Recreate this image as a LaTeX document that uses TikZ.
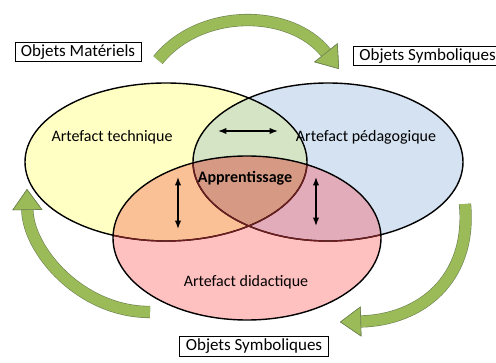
\documentclass[tikz,border=0pt]{standalone}
\usepackage{fontspec}
\setmainfont{Carlito}
\usetikzlibrary{arrows.meta}
\definecolor{yel}{RGB}{255,255,196}
\definecolor{blu}{RGB}{212,226,242}
\definecolor{pnk}{RGB}{255,192,192}
\definecolor{grn}{RGB}{212,228,196}
\definecolor{org}{RGB}{250,192,150}
\definecolor{mau}{RGB}{226,172,186}
\definecolor{brn}{RGB}{214,154,132}
\definecolor{lensline}{RGB}{110,30,30}
\definecolor{arrgreen}{RGB}{155,187,89}
\definecolor{arrdark}{RGB}{110,130,80}

\def\yelE{(166,162) ellipse [x radius=141, y radius=79]}
\def\bluE{(328,162) ellipse [x radius=135, y radius=79]}
\def\pnkE{(247,238) ellipse [x radius=134, y radius=82]}

\begin{document}
\begin{tikzpicture}[x=1pt,y=-1pt,>=Latex,
 objbox/.style={draw,fill=white,line width=.8pt,font=\fontsize{17}{19}\selectfont,inner xsep=6pt,inner ysep=2.5pt},
 artlabel/.style={font=\fontsize{16}{18}\selectfont},
 outl/.style={line width=1.4pt},
 cyc/.style={draw=arrgreen,line width=11pt,
   -{Triangle[length=21pt,width=30pt,fill=arrgreen,color=arrdark,line width=.6pt]},
   preaction={draw=arrdark,line width=12.2pt}},
 dbl/.style={<->,line width=1.2pt}]
 \clip (0,0) rectangle (496,363);
 % fills and overlaps
 \fill[yel] \yelE; \fill[blu] \bluE; \fill[pnk] \pnkE;
 \begin{scope}\clip \bluE; \fill[mau] \pnkE;\end{scope}
 \begin{scope}\clip \yelE; \fill[grn] \bluE; \fill[org] \pnkE;
  \clip \bluE; \fill[brn] \pnkE;\end{scope}
 % outlines
 \draw[outl] \yelE; \draw[outl] \bluE;
 \begin{scope}\clip \pnkE; \draw[outl,lensline] \yelE; \draw[outl,lensline] \bluE;\end{scope}
 \draw[outl] \pnkE;
 % labels
 \node[artlabel] (tech) at (112,137) {Artefact technique};
 \node[artlabel] (peda) at (366,137) {Artefact pédagogique};
 \node[artlabel] (didac) at (246,282) {Artefact didactique};
 \node[artlabel,font=\fontsize{16}{18}\selectfont\bfseries] (app) at (245,178) {Apprentissage};
 % double arrows
 \coordinate (h1) at (218,131); \coordinate (h2) at (278,131);
 \coordinate (v1a) at (178,177); \coordinate (v1b) at (178,229);
 \coordinate (v2a) at (316,177); \coordinate (v2b) at (316,226);
 \draw[dbl] (h1)--(h2);
 \draw[dbl] (v1a)--(v1b);
 \draw[dbl] (v2a)--(v2b);
 % boxes
 \node[objbox] (mat) at (78,52) {Objets Matériels};
 \node[objbox,anchor=west] (symtop) at (353,56) {Objets Symboliques};
 \node[objbox,anchor=north] (symbot) at (254,336) {Objets Symboliques};
 % green cycle arrows
 \coordinate (ta) at (158,60); \coordinate (tb) at (339,69);
 \coordinate (ls) at (150,312); \coordinate (lt) at (27,189);
 \coordinate (rs) at (465,204); \coordinate (rt) at (340,322);
 \draw[cyc] (ta) .. controls (200,8) and (290,8) .. (tb);
 \draw[cyc] (ls) .. controls (80,312) and (28,250) .. (lt);
 \draw[cyc] (rs) .. controls (472,280) and (420,320) .. (rt);
\end{tikzpicture}
\end{document}
